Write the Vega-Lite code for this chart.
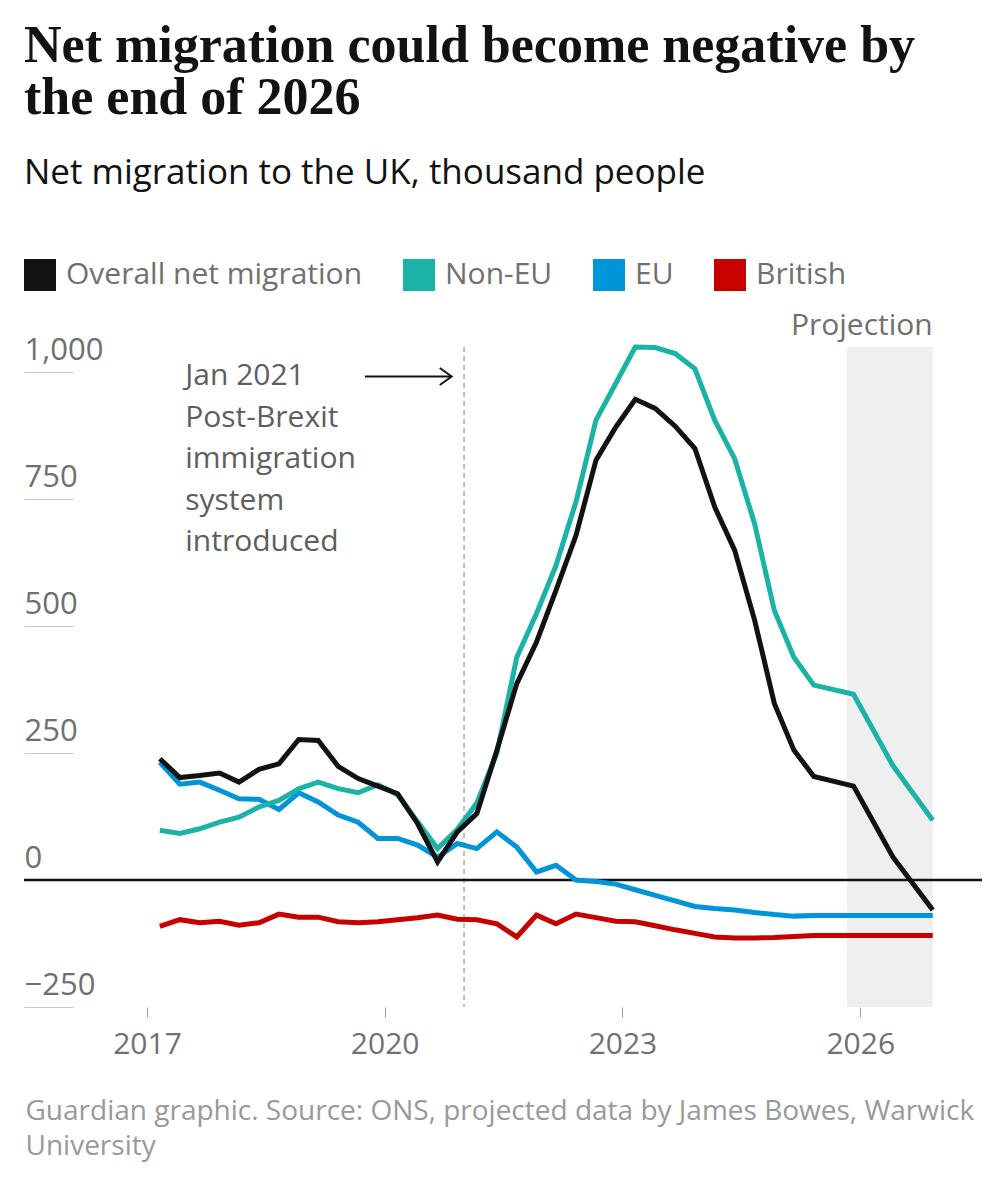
{
  "$schema": "https://vega.github.io/schema/vega-lite/v6.json",
  "width": 958,
  "height": 660,
  "autosize": {"type": "none"},
  "padding": {"left": 24, "top": 347, "right": 23, "bottom": 193},
  "background": "#ffffff",
  "title": {
    "text": ["Net migration could become negative by", "the end of 2026"],
    "subtitle": "Net migration to the UK, thousand people",
    "anchor": "start",
    "frame": "group",
    "font": "Liberation Serif",
    "fontSize": 52,
    "fontWeight": "bold",
    "color": "#121212",
    "lineHeight": 52.5,
    "subtitleFont": "Open Sans",
    "subtitleFontSize": 35,
    "subtitleFontWeight": "normal",
    "subtitleColor": "#121212",
    "subtitlePadding": 31,
    "offset": 67
  },
  "config": {
    "view": {"stroke": null},
    "font": "Open Sans",
    "axis": {"labelFont": "Open Sans", "titleFont": "Open Sans"}
  },
  "layer": [
    {
      "data": {"values": [{"start": "2025-11-01", "end": "2026-12-01"}]},
      "mark": {"type": "rect", "color": "#efefef"},
      "encoding": {
        "x": {"field": "start", "type": "temporal",
              "scale": {"type": "utc", "domain": [{"year": 2015, "month": 6, "date": 14, "utc": true}, {"year": 2027, "month": 7, "date": 16, "utc": true}]}},
        "x2": {"field": "end"}
      }
    },
    {
      "data": {"values": [{"date": "2021-01-01"}]},
      "mark": {"type": "rule", "color": "#aaaaaa", "strokeWidth": 1.5, "strokeDash": [5, 4]},
      "encoding": {
        "x": {"field": "date", "type": "temporal",
              "scale": {"type": "utc", "domain": [{"year": 2015, "month": 6, "date": 14, "utc": true}, {"year": 2027, "month": 7, "date": 16, "utc": true}]}}
      }
    },
    {
      "data": {"values": [{"value": 0}]},
      "mark": {"type": "rule", "color": "#121212", "strokeWidth": 2.5},
      "encoding": {
        "y": {"field": "value", "type": "quantitative",
              "scale": {"domain": [-250, 1050], "nice": false, "zero": false}}
      }
    },
    {
      "data": {
        "values": [
          {"date": "2017-03-01", "Overall net migration": 239, "Non-EU": 98, "EU": 232, "British": -91},
          {"date": "2017-06-01", "Overall net migration": 202, "Non-EU": 92, "EU": 189, "British": -78},
          {"date": "2017-09-01", "Overall net migration": 206, "Non-EU": 101, "EU": 193, "British": -84},
          {"date": "2017-12-01", "Overall net migration": 211, "Non-EU": 114, "EU": 177, "British": -81},
          {"date": "2018-03-01", "Overall net migration": 193, "Non-EU": 124, "EU": 160, "British": -89},
          {"date": "2018-06-01", "Overall net migration": 218, "Non-EU": 144, "EU": 159, "British": -84},
          {"date": "2018-09-01", "Overall net migration": 229, "Non-EU": 157, "EU": 139, "British": -67},
          {"date": "2018-12-01", "Overall net migration": 277, "Non-EU": 180, "EU": 172, "British": -73},
          {"date": "2019-03-01", "Overall net migration": 275, "Non-EU": 193, "EU": 154, "British": -73},
          {"date": "2019-06-01", "Overall net migration": 224, "Non-EU": 180, "EU": 128, "British": -82},
          {"date": "2019-09-01", "Overall net migration": 200, "Non-EU": 172, "EU": 114, "British": -84},
          {"date": "2019-12-01", "Overall net migration": 185, "Non-EU": 188, "EU": 82, "British": -82},
          {"date": "2020-03-01", "Overall net migration": 170, "Non-EU": 168, "EU": 82, "British": -78},
          {"date": "2020-06-01", "Overall net migration": 111, "Non-EU": 115, "EU": 69, "British": -74},
          {"date": "2020-09-01", "Overall net migration": 36, "Non-EU": 62, "EU": 45, "British": -69},
          {"date": "2020-12-01", "Overall net migration": 95, "Non-EU": 100, "EU": 72, "British": -77},
          {"date": "2021-03-01", "Overall net migration": 131, "Non-EU": 152, "EU": 62, "British": -78},
          {"date": "2021-06-01", "Overall net migration": 255, "Non-EU": 250, "EU": 95, "British": -86},
          {"date": "2021-09-01", "Overall net migration": 387, "Non-EU": 439, "EU": 65, "British": -112},
          {"date": "2021-12-01", "Overall net migration": 469, "Non-EU": 525, "EU": 16, "British": -69},
          {"date": "2022-03-01", "Overall net migration": 571, "Non-EU": 620, "EU": 29, "British": -86},
          {"date": "2022-06-01", "Overall net migration": 679, "Non-EU": 745, "EU": 0, "British": -67},
          {"date": "2022-09-01", "Overall net migration": 827, "Non-EU": 906, "EU": -3, "British": -74},
          {"date": "2022-12-01", "Overall net migration": 892, "Non-EU": 978, "EU": -8, "British": -81},
          {"date": "2023-03-01", "Overall net migration": 947, "Non-EU": 1050, "EU": -19, "British": -82},
          {"date": "2023-06-01", "Overall net migration": 929, "Non-EU": 1049, "EU": -30, "British": -90},
          {"date": "2023-09-01", "Overall net migration": 894, "Non-EU": 1037, "EU": -41, "British": -98},
          {"date": "2023-12-01", "Overall net migration": 850, "Non-EU": 1007, "EU": -52, "British": -105},
          {"date": "2024-03-01", "Overall net migration": 735, "Non-EU": 906, "EU": -56, "British": -112},
          {"date": "2024-06-01", "Overall net migration": 650, "Non-EU": 830, "EU": -59, "British": -114},
          {"date": "2024-09-01", "Overall net migration": 512, "Non-EU": 702, "EU": -64, "British": -114},
          {"date": "2024-12-01", "Overall net migration": 348, "Non-EU": 531, "EU": -68, "British": -113},
          {"date": "2025-03-01", "Overall net migration": 256, "Non-EU": 439, "EU": -71, "British": -111},
          {"date": "2025-06-01", "Overall net migration": 204, "Non-EU": 384, "EU": -70, "British": -109},
          {"date": "2025-12-01", "Overall net migration": 185, "Non-EU": 366, "EU": -70, "British": -109},
          {"date": "2026-06-01", "Overall net migration": 45, "Non-EU": 225, "EU": -70, "British": -109},
          {"date": "2026-12-01", "Overall net migration": -59, "Non-EU": 118, "EU": -70, "British": -109}
        ]
      },
      "transform": [
        {"fold": ["British", "EU", "Non-EU", "Overall net migration"], "as": ["series", "value"]}
      ],
      "mark": {"type": "line", "strokeWidth": 5},
      "encoding": {
        "x": {
          "field": "date", "type": "temporal",
          "scale": {"type": "utc", "domain": [{"year": 2015, "month": 6, "date": 14, "utc": true}, {"year": 2027, "month": 7, "date": 16, "utc": true}]},
          "axis": {
            "values": [{"year": 2017, "utc": true}, {"year": 2020, "utc": true}, {"year": 2023, "utc": true}, {"year": 2026, "utc": true}],
            "format": "%Y",
            "domain": false,
            "grid": false,
            "tickSize": 10,
            "tickColor": "#999999",
            "tickWidth": 1,
            "labelFontSize": 30,
            "labelColor": "#707070",
            "labelPadding": 12,
            "labelFlush": false,
            "title": ["Guardian graphic. Source: ONS, projected data by James Bowes, Warwick", "University"],
            "titleFontSize": 28,
            "titleFontWeight": "normal",
            "titleColor": "#999999",
            "titleAlign": "left",
            "titleAnchor": "start",
            "titleBaseline": "alphabetic",
            "titleLineHeight": 35,
            "titleX": 1,
            "titleY": 112
          }
        },
        "y": {
          "field": "value", "type": "quantitative",
          "scale": {"domain": [-250, 1050], "nice": false, "zero": false},
          "axis": {
            "values": [-250, 0, 250, 500, 750, 1000],
            "labelExpr": "format(datum.value, ',')",
            "domain": false,
            "grid": false,
            "offset": -49,
            "tickSize": 49,
            "tickColor": "#c8c8c8",
            "tickWidth": 1,
            "labelAlign": "left",
            "labelBaseline": "alphabetic",
            "labelPadding": 0,
            "labelOffset": -13,
            "labelFontSize": 31,
            "labelColor": "#707070",
            "labelFlush": false,
            "labelOverlap": false,
            "title": null
          }
        },
        "color": {
          "field": "series", "type": "nominal",
          "scale": {
            "domain": ["Overall net migration", "Non-EU", "EU", "British"],
            "range": ["#121212", "#1bb3a6", "#0094d9", "#c70000"]
          },
          "legend": {
            "title": null,
            "orient": "none",
            "legendX": 0,
            "legendY": -88,
            "direction": "horizontal",
            "symbolType": "square",
            "symbolSize": 1024,
            "symbolStrokeWidth": 0,
            "symbolOpacity": 1,
            "labelFont": "Open Sans",
            "labelFontSize": 30,
            "labelColor": "#707070",
            "labelOffset": 10,
            "labelLimit": 500,
            "columnPadding": 40,
            "padding": 0,
            "encode": {
              "symbols": {
                "update": {
                  "fill": {"scale": "color", "field": "value"},
                  "stroke": {"value": "transparent"},
                  "strokeWidth": {"value": 0}
                }
              }
            }
          }
        }
      }
    },
    {
      "data": {"values": [{"date": "2017-06-26", "value": 975, "label": "Jan 2021\nPost-Brexit\nimmigration\nsystem\nintroduced"}]},
      "mark": {"type": "text", "align": "left", "baseline": "alphabetic", "fontSize": 30, "lineHeight": 41.5, "color": "#5e5e5e", "lineBreak": "\n"},
      "encoding": {
        "x": {"field": "date", "type": "temporal",
              "scale": {"type": "utc", "domain": [{"year": 2015, "month": 6, "date": 14, "utc": true}, {"year": 2027, "month": 7, "date": 16, "utc": true}]}},
        "y": {"field": "value", "type": "quantitative",
              "scale": {"domain": [-250, 1050], "nice": false, "zero": false}},
        "text": {"field": "label", "type": "nominal"}
      }
    },
    {
      "data": {"values": [{"date": "2019-10-02", "end": "2020-11-05", "value": 992}]},
      "mark": {"type": "rule", "color": "#121212", "strokeWidth": 2},
      "encoding": {
        "x": {"field": "date", "type": "temporal",
              "scale": {"type": "utc", "domain": [{"year": 2015, "month": 6, "date": 14, "utc": true}, {"year": 2027, "month": 7, "date": 16, "utc": true}]}},
        "x2": {"field": "end"},
        "y": {"field": "value", "type": "quantitative",
              "scale": {"domain": [-250, 1050], "nice": false, "zero": false}}
      }
    },
    {
      "data": {"values": [{"end": "2020-11-05", "value": 992}]},
      "mark": {"type": "point", "shape": "M-1.4,-1L0,0L-1.4,1", "size": 289, "filled": false, "color": "#121212", "strokeWidth": 2, "opacity": 1},
      "encoding": {
        "x": {"field": "end", "type": "temporal",
              "scale": {"type": "utc", "domain": [{"year": 2015, "month": 6, "date": 14, "utc": true}, {"year": 2027, "month": 7, "date": 16, "utc": true}]}},
        "y": {"field": "value", "type": "quantitative",
              "scale": {"domain": [-250, 1050], "nice": false, "zero": false}}
      }
    },
    {
      "data": {"values": [{"date": "2026-12-01", "value": 1073, "label": "Projection"}]},
      "mark": {"type": "text", "align": "right", "baseline": "alphabetic", "fontSize": 30, "color": "#707070"},
      "encoding": {
        "x": {"field": "date", "type": "temporal",
              "scale": {"type": "utc", "domain": [{"year": 2015, "month": 6, "date": 14, "utc": true}, {"year": 2027, "month": 7, "date": 16, "utc": true}]}},
        "y": {"field": "value", "type": "quantitative",
              "scale": {"domain": [-250, 1050], "nice": false, "zero": false}},
        "text": {"field": "label", "type": "nominal"}
      }
    }
  ]
}
